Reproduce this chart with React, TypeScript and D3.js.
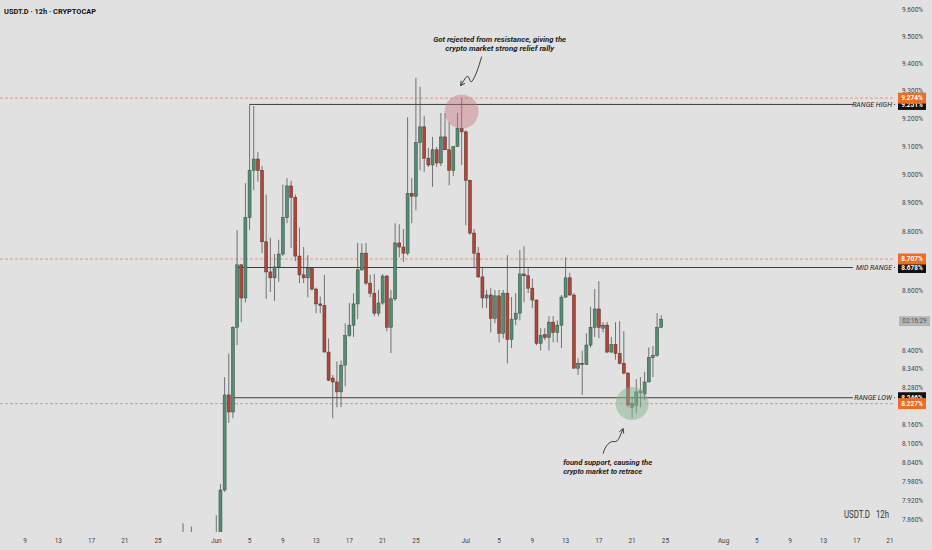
import { useEffect, useRef } from 'react';
import * as d3 from 'd3';

const W = 932;
const H = 550;
const PLOT_RIGHT = 895;
const PLOT_BOTTOM = 532;

const FIRST_BAR = '2023-06-01T00:00:00Z';
const BAR_MS = 12 * 3600 * 1000;

// 12h bars from Jun 1, [open, high, low, close] in %
const BARS: [number, number, number, number][] = [
  [7.78, 7.875, 7.75, 7.81], [7.80, 7.972, 7.77, 7.953], [7.953, 8.313, 7.947, 8.255], [8.255, 8.39, 8.165, 8.2],
  [8.2, 8.48, 8.18, 8.477], [8.477, 8.806, 8.418, 8.687], [8.687, 8.69, 8.494, 8.575], [8.575, 8.97, 8.56, 8.85],
  [8.85, 9.251, 8.806, 9.015], [9.015, 9.245, 8.945, 9.055], [9.055, 9.08, 8.975, 9.015], [9.015, 9.03, 8.727, 8.766],
  [8.766, 8.93, 8.572, 8.663], [8.663, 8.78, 8.595, 8.643], [8.643, 8.724, 8.565, 8.68], [8.68, 8.773, 8.629, 8.724],
  [8.724, 8.965, 8.717, 8.85], [8.85, 8.988, 8.83, 8.96], [8.96, 8.978, 8.745, 8.92], [8.92, 8.93, 8.70, 8.717],
  [8.717, 8.815, 8.625, 8.653], [8.653, 8.748, 8.625, 8.643], [8.643, 8.72, 8.577, 8.675], [8.675, 8.68, 8.60, 8.605],
  [8.605, 8.61, 8.524, 8.555], [8.555, 8.58, 8.524, 8.55], [8.55, 8.653, 8.395, 8.395], [8.395, 8.44, 8.30, 8.303],
  [8.31, 8.32, 8.18, 8.297], [8.297, 8.364, 8.215, 8.265], [8.265, 8.367, 8.215, 8.352], [8.352, 8.49, 8.283, 8.45],
  [8.45, 8.558, 8.445, 8.484], [8.484, 8.591, 8.445, 8.555], [8.555, 8.762, 8.504, 8.67], [8.67, 8.76, 8.666, 8.727],
  [8.727, 8.762, 8.619, 8.625], [8.625, 8.653, 8.578, 8.591], [8.591, 8.656, 8.514, 8.524], [8.524, 8.602, 8.514, 8.558],
  [8.558, 8.656, 8.552, 8.649], [8.649, 8.653, 8.464, 8.477], [8.477, 8.602, 8.392, 8.572], [8.572, 8.83, 8.565, 8.762],
  [8.762, 8.826, 8.713, 8.748], [8.748, 8.81, 8.697, 8.727], [8.727, 9.205, 8.72, 8.934], [8.934, 8.988, 8.83, 8.924],
  [8.924, 9.348, 8.875, 9.114], [9.114, 9.315, 9.015, 9.17], [9.17, 9.21, 9.01, 9.058], [9.058, 9.095, 9.027, 9.034],
  [9.034, 9.134, 8.957, 9.088], [9.088, 9.098, 9.027, 9.041], [9.041, 9.22, 9.03, 9.134], [9.134, 9.22, 9.088, 9.088],
  [9.088, 9.186, 8.962, 9.015], [9.015, 9.10, 8.995, 9.10], [9.10, 9.22, 9.098, 9.165], [9.165, 9.274, 9.034, 9.152],
  [9.152, 9.157, 8.823, 8.98], [8.98, 8.982, 8.79, 8.796], [8.796, 8.81, 8.676, 8.727], [8.727, 8.748, 8.643, 8.646],
  [8.646, 8.68, 8.541, 8.575], [8.575, 8.602, 8.541, 8.585], [8.585, 8.608, 8.46, 8.507], [8.507, 8.602, 8.49, 8.582],
  [8.582, 8.602, 8.427, 8.457], [8.457, 8.602, 8.44, 8.591], [8.591, 8.72, 8.358, 8.437], [8.437, 8.578, 8.408, 8.504],
  [8.504, 8.591, 8.484, 8.524], [8.524, 8.738, 8.50, 8.656], [8.656, 8.75, 8.56, 8.65], [8.65, 8.676, 8.591, 8.608],
  [8.608, 8.64, 8.541, 8.568], [8.568, 8.57, 8.418, 8.424], [8.424, 8.474, 8.40, 8.45], [8.453, 8.474, 8.434, 8.443],
  [8.443, 8.514, 8.40, 8.494], [8.494, 8.514, 8.427, 8.46], [8.46, 8.50, 8.427, 8.484], [8.484, 8.585, 8.408, 8.578],
  [8.578, 8.713, 8.575, 8.643], [8.643, 8.66, 8.582, 8.585], [8.585, 8.591, 8.342, 8.342], [8.342, 8.374, 8.32, 8.358],
  [8.358, 8.40, 8.255, 8.354], [8.354, 8.457, 8.354, 8.418], [8.418, 8.545, 8.41, 8.477], [8.477, 8.605, 8.445, 8.538],
  [8.538, 8.632, 8.44, 8.477], [8.474, 8.494, 8.46, 8.484], [8.484, 8.494, 8.392, 8.395], [8.395, 8.445, 8.392, 8.42],
  [8.42, 8.494, 8.37, 8.39], [8.39, 8.497, 8.354, 8.358], [8.358, 8.464, 8.322, 8.326], [8.326, 8.329, 8.215, 8.222],
  [8.215, 8.249, 8.18, 8.227], [8.222, 8.306, 8.195, 8.265], [8.262, 8.313, 8.215, 8.268], [8.258, 8.33, 8.238, 8.297],
  [8.297, 8.41, 8.297, 8.377], [8.377, 8.415, 8.313, 8.384], [8.384, 8.524, 8.38, 8.477], [8.477, 8.517, 8.474, 8.504],
];

// older bars whose wicks just poke into the bottom of the view
const EARLY_DATES = ['2023-05-28T00:00:00Z', '2023-05-29T00:00:00Z'];
const EARLY_BARS: [number, number, number, number][] = [[7.79, 7.85, 7.76, 7.80], [7.80, 7.84, 7.76, 7.79]];

// 8.700 / 8.500 / 8.220 sit under the price tags in the original, so they are left out
const Y_TICKS = [9.6, 9.5, 9.4, 9.3, 9.2, 9.1, 9.0, 8.9, 8.8, 8.6, 8.4, 8.34, 8.28, 8.16, 8.1, 8.04, 7.98, 7.92, 7.86];
const X_TICK_DATES = [
  '2023-05-09', '2023-05-13', '2023-05-17', '2023-05-21', '2023-05-25', '2023-06-01', '2023-06-05', '2023-06-09',
  '2023-06-13', '2023-06-17', '2023-06-21', '2023-06-25', '2023-07-01', '2023-07-05', '2023-07-09', '2023-07-13',
  '2023-07-17', '2023-07-21', '2023-07-25', '2023-08-01', '2023-08-05', '2023-08-09', '2023-08-13', '2023-08-17', '2023-08-21',
];
const X_TICK_LABELS = ['9', '13', '17', '21', '25', 'Jun', '5', '9', '13', '17', '21', '25', 'Jul', '5', '9', '13', '17', '21', '25', 'Aug', '5', '9', '13', '17', '21'];

const LEVEL_NAMES = ['RANGE HIGH', 'MID RANGE', 'RANGE LOW'];
const LEVEL_VALUES = [9.251, 8.678, 8.246];
const LEVEL_FROM = ['2023-06-05T00:00:00Z', '2023-06-03T12:00:00Z', '2023-06-03T00:00:00Z'];
const MARK_VALUES = [9.274, 8.707, 8.227];
const COUNTDOWN = '02:16:29';

const TOP_NOTE = ['Got rejected from resistance, giving the', 'crypto market strong relief rally'];
const BOTTOM_NOTE = ['found support, causing the', 'crypto market to retrace'];
const TOP_CIRCLE = { date: '2023-06-30T12:00:00Z', value: 9.225 };
const BOTTOM_CIRCLE = { date: '2023-07-21T00:00:00Z', value: 8.227 };

const BG = '#e1e1e1';
const UP = '#558c72';
const DOWN = '#ad463b';
const ORANGE = '#ee6d25';
const FONT = 'Roboto, "Noto Sans", sans-serif';

function arrowHead(g: d3.Selection<SVGGElement, unknown, null, undefined>, x: number, y: number, fromX: number, fromY: number) {
  const a = Math.atan2(y - fromY, x - fromX);
  const len = 5;
  const pts = [a + Math.PI - 0.5, a + Math.PI + 0.5].map((t) => [x + len * Math.cos(t), y + len * Math.sin(t)]);
  g.append('path')
    .attr('d', `M${pts[0][0]},${pts[0][1]} L${x},${y} L${pts[1][0]},${pts[1][1]}`)
    .attr('fill', 'none').attr('stroke', '#2a2a2a').attr('stroke-width', 0.9);
}

export default function App() {
  const svgRef = useRef<SVGSVGElement>(null);

  useEffect(() => {
    const svgEl = svgRef.current;
    if (!svgEl) return;
    const svg = d3.select(svgEl);
    svg.selectAll('*').remove();

    const x = d3.scaleUtc()
      .domain([new Date('2023-06-01T00:00:00Z'), new Date('2023-07-01T00:00:00Z')])
      .range([216.3, 465.8]);
    const y = d3.scaleLog().domain([7.86, 9.6]).range([520, 10]);

    svg.append('rect').attr('width', W).attr('height', H).attr('fill', BG);
    svg.append('defs').append('clipPath').attr('id', 'plot-clip')
      .append('rect').attr('width', PLOT_RIGHT).attr('height', PLOT_BOTTOM);

    const t0 = new Date(FIRST_BAR).getTime();
    const bars = [
      ...EARLY_BARS.map((b, i) => ({ t: new Date(EARLY_DATES[i]), o: b[0], h: b[1], l: b[2], c: b[3] })),
      ...BARS.map((b, i) => ({ t: new Date(t0 + i * BAR_MS), o: b[0], h: b[1], l: b[2], c: b[3] })),
    ];

    const plot = svg.append('g').attr('clip-path', 'url(#plot-clip)');

    // dashed orange marks across the whole plot
    plot.selectAll('.mark-line').data(MARK_VALUES).join('line')
      .attr('x1', 0).attr('x2', PLOT_RIGHT)
      .attr('y1', (d) => y(d)).attr('y2', (d) => y(d))
      .attr('stroke', '#e8835a').attr('stroke-width', 0.8).attr('stroke-dasharray', '3 2');

    // range lines
    LEVEL_VALUES.forEach((v, i) => {
      const yy = y(v);
      plot.append('line').attr('x1', x(new Date(LEVEL_FROM[i]))).attr('x2', 853)
        .attr('y1', yy).attr('y2', yy).attr('stroke', '#2b2b2b').attr('stroke-width', 0.9);
      plot.append('line').attr('x1', 894).attr('x2', PLOT_RIGHT + 2)
        .attr('y1', yy).attr('y2', yy).attr('stroke', '#2b2b2b').attr('stroke-width', 0.9);
      plot.append('text').attr('x', 892).attr('y', yy).attr('dy', '0.35em')
        .attr('text-anchor', 'end').attr('font-family', FONT).attr('font-style', 'italic')
        .attr('font-size', 7).attr('fill', '#222').text(LEVEL_NAMES[i]);
    });

    const bw = 3;
    const candle = plot.selectAll('.bar').data(bars).join('g');
    candle.append('line')
      .attr('x1', (d) => x(d.t)).attr('x2', (d) => x(d.t))
      .attr('y1', (d) => y(d.h)).attr('y2', (d) => y(d.l))
      .attr('stroke', '#555').attr('stroke-width', 0.8);
    candle.append('rect')
      .attr('x', (d) => x(d.t) - bw / 2).attr('width', bw)
      .attr('y', (d) => y(Math.max(d.o, d.c)))
      .attr('height', (d) => Math.max(1, Math.abs(y(d.o) - y(d.c))))
      .attr('fill', (d) => (d.c >= d.o ? UP : DOWN))
      .attr('stroke', (d) => (d.c >= d.o ? '#2f4d3f' : '#5e2a24')).attr('stroke-width', 0.5);

    // annotations
    const notes = svg.append('g');
    const tc = { x: x(new Date(TOP_CIRCLE.date)), y: y(TOP_CIRCLE.value) };
    const bc = { x: x(new Date(BOTTOM_CIRCLE.date)), y: y(BOTTOM_CIRCLE.value) };
    notes.append('circle').attr('cx', tc.x).attr('cy', tc.y).attr('r', 17)
      .attr('fill', '#c9727f').attr('opacity', 0.42);
    notes.append('circle').attr('cx', bc.x).attr('cy', bc.y).attr('r', 16.5)
      .attr('fill', '#86b391').attr('opacity', 0.5);

    TOP_NOTE.forEach((line, i) => {
      notes.append('text').attr('x', tc.x + 38).attr('y', tc.y - 72 + i * 8.7).attr('dy', '0.35em')
        .attr('text-anchor', 'middle').attr('font-family', FONT).attr('font-style', 'italic').attr('font-weight', 700)
        .attr('font-size', 7.6).attr('fill', '#222')
        .attr('textLength', i === 0 ? 133 : 109).attr('lengthAdjust', 'spacingAndGlyphs').text(line);
    });
    BOTTOM_NOTE.forEach((line, i) => {
      notes.append('text').attr('x', bc.x - 69).attr('y', bc.y + 58.5 + i * 9.5).attr('dy', '0.35em')
        .attr('font-family', FONT).attr('font-style', 'italic').attr('font-weight', 700)
        .attr('font-size', 7.6).attr('fill', '#222')
        .attr('textLength', i === 0 ? 89 : 79).attr('lengthAdjust', 'spacingAndGlyphs').text(line);
    });

    const ta = notes.append('g').attr('transform', `translate(${tc.x},${tc.y})`);
    ta.append('path').attr('d', 'M20,-55 C17,-44 13,-33 10,-30 C8,-28 8,-37 5,-35 C3,-33 1,-29 -1,-26')
      .attr('fill', 'none').attr('stroke', '#2a2a2a').attr('stroke-width', 0.9);
    arrowHead(ta, -1, -26, 1, -29);
    const ba = notes.append('g').attr('transform', `translate(${bc.x},${bc.y})`);
    ba.append('path').attr('d', 'M-29,50 C-27,42 -22,37 -18,38 C-14,39 -12,32 -9,25')
      .attr('fill', 'none').attr('stroke', '#2a2a2a').attr('stroke-width', 0.9);
    arrowHead(ba, -9, 25, -11, 30);

    // price axis
    const axis = svg.append('g');
    axis.selectAll('.ytick').data(Y_TICKS).join('text')
      .attr('x', 912.5).attr('y', (d) => y(d)).attr('dy', '0.35em').attr('text-anchor', 'middle')
      .attr('font-family', FONT).attr('font-size', 6.5).attr('fill', '#444')
      .text((d) => `${d.toFixed(3)}%`);

    const tag = (v: number, fill: string) => {
      const yy = y(v);
      axis.append('rect').attr('x', 898).attr('y', yy - 5.5).attr('width', 28).attr('height', 11).attr('fill', fill);
      axis.append('text').attr('x', 912).attr('y', yy).attr('dy', '0.35em').attr('text-anchor', 'middle')
        .attr('font-family', FONT).attr('font-size', 6.5).attr('font-weight', 700).attr('fill', '#fff')
        .text(`${v.toFixed(3)}%`);
    };
    LEVEL_VALUES.forEach((v) => tag(v, '#111'));
    MARK_VALUES.forEach((v) => tag(v, ORANGE));

    const last = bars[bars.length - 1];
    const cy = y(last.c) + 2;
    axis.append('rect').attr('x', 899).attr('y', cy - 5).attr('width', 31).attr('height', 10).attr('fill', '#b5b5b5');
    axis.append('text').attr('x', 914.5).attr('y', cy).attr('dy', '0.35em').attr('text-anchor', 'middle')
      .attr('font-family', FONT).attr('font-size', 6.3).attr('fill', '#555').text(COUNTDOWN);

    // time axis
    svg.append('g').selectAll('text').data(X_TICK_DATES).join('text')
      .attr('x', (d) => x(new Date(`${d}T00:00:00Z`))).attr('y', 541).attr('dy', '0.35em')
      .attr('text-anchor', 'middle').attr('font-family', FONT).attr('font-size', 6.5).attr('fill', '#444')
      .text((_, i) => X_TICK_LABELS[i]);

    // header and symbol watermark
    svg.append('text').attr('x', 4).attr('y', 11.5).attr('dy', '0.35em')
      .attr('font-family', FONT).attr('font-weight', 700).attr('font-size', 8).attr('fill', '#111')
      .attr('textLength', 92).attr('lengthAdjust', 'spacingAndGlyphs').text('USDT.D · 12h · CRYPTOCAP');
    svg.append('text').attr('x', 844).attr('y', 514).attr('dy', '0.35em')
      .attr('font-family', FONT).attr('font-size', 10).attr('fill', '#333')
      .attr('textLength', 26).attr('lengthAdjust', 'spacingAndGlyphs').text('USDT.D');
    svg.append('text').attr('x', 876).attr('y', 514).attr('dy', '0.35em')
      .attr('font-family', FONT).attr('font-size', 10).attr('fill', '#333')
      .attr('textLength', 13).attr('lengthAdjust', 'spacingAndGlyphs').text('12h');
  }, []);

  return (
    <svg ref={svgRef} width={W} height={H} viewBox={`0 0 ${W} ${H}`}
      style={{ position: 'absolute', left: 0, top: 0, display: 'block' }} role="img" aria-label="USDT.D 12h chart" />
  );
}
